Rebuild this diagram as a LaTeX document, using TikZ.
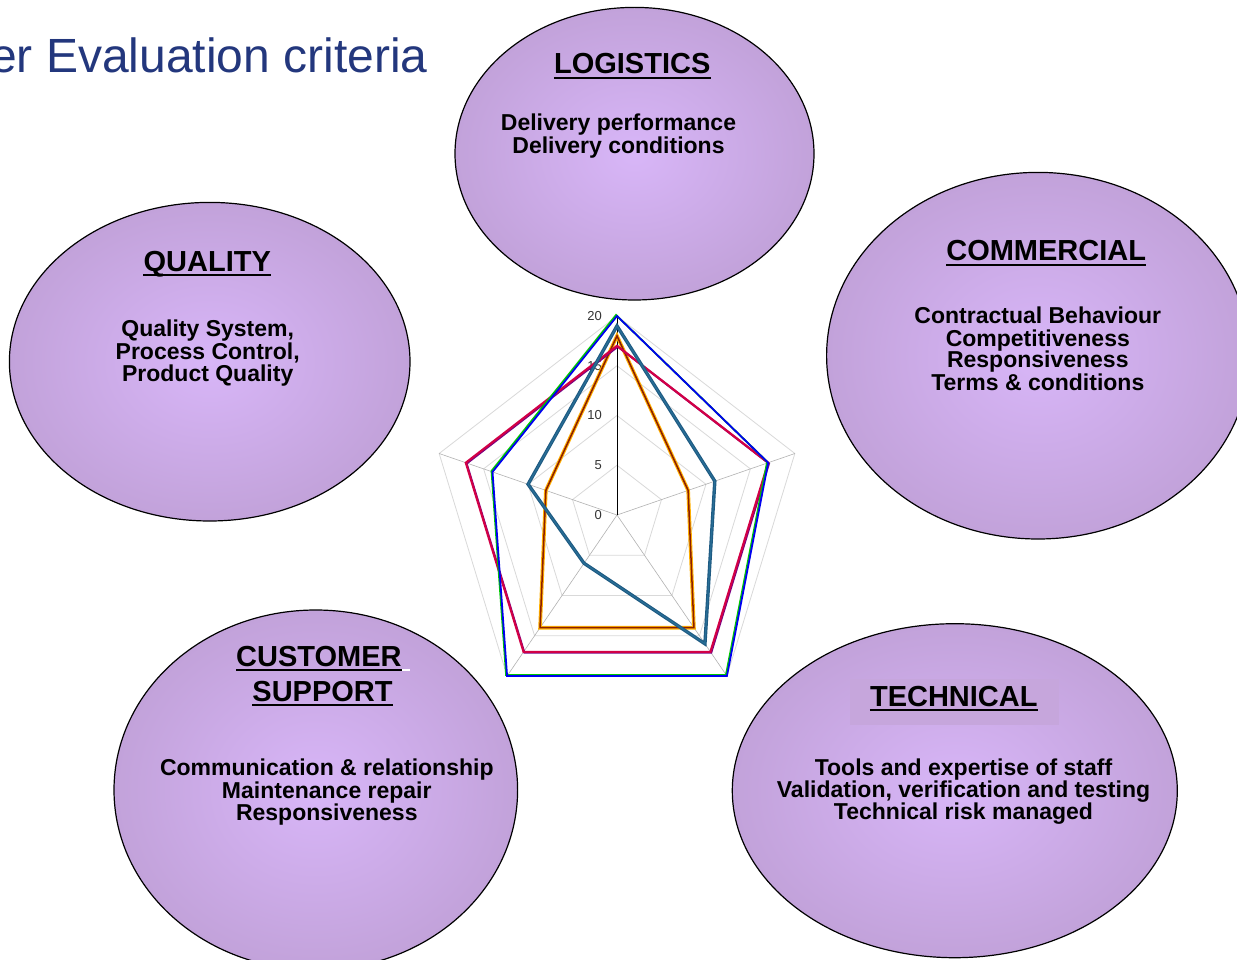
\documentclass[tikz,border=0pt]{standalone}
\usepackage{fontspec}
\setmainfont{Liberation Sans}
\usetikzlibrary{shapes.geometric}
\definecolor{lavin}{RGB}{216,182,248}
\definecolor{lavout}{RGB}{194,162,218}
\definecolor{titleblue}{RGB}{35,55,125}
\definecolor{headbg}{RGB}{198,166,220}
\definecolor{sgreen}{RGB}{0,200,0}
\definecolor{sblue}{RGB}{0,0,240}
\definecolor{scrim}{RGB}{210,0,70}
\definecolor{spurp}{RGB}{120,0,130}
\definecolor{steal}{RGB}{30,90,130}
\definecolor{stealin}{RGB}{40,110,150}
\definecolor{sorange}{RGB}{255,176,0}
\definecolor{sbrown}{RGB}{140,30,0}
\begin{document}
\begin{tikzpicture}[x=1pt,y=-1pt,
  blob/.style={ellipse, draw=black, line width=1.2pt, inner sep=0pt,
    shading=radial, inner color=lavin, outer color=lavout},
  head/.style={font=\bfseries\fontsize{29}{29}\selectfont, inner sep=0pt, anchor=base},
  body/.style={font=\bfseries\fontsize{23}{23}\selectfont, inner sep=0pt, anchor=base},
  uline/.style={line width=2pt},
  ringc/.style={draw=black!15, line width=0.8pt},
  spokec/.style={draw=black!30, line width=0.6pt},
  axlab/.style={font=\fontsize{13}{13}\selectfont, text=black!80, inner sep=0pt, anchor=east}]
\useasboundingbox[fill=white] (0,0) rectangle (1237,960);

% title
\node[font=\fontsize{48}{48}\selectfont, text=titleblue, inner sep=0pt, anchor=base west]
  (title) at (-10,72.7) {er Evaluation criteria};

% ellipses
\node[blob, minimum width=359pt, minimum height=292.6pt] (logistics) at (634.5,153.7) {};
\node[blob, minimum width=400.6pt, minimum height=318.6pt] (quality) at (209.7,361.7) {};
\node[blob, minimum width=422.8pt, minimum height=366.6pt] (commercial) at (1038,355.7) {};
\node[blob, minimum width=403.6pt, minimum height=360pt] (customer) at (315.8,790) {};
\node[blob, minimum width=445pt, minimum height=334pt] (technical) at (954.8,790.7) {};

% radar chart
\begin{scope}[shift={(617,515)}, x=9.35pt, y=9.95pt]
  \foreach \r in {5,10,15,20}
    \draw[ringc] (90:\r) -- (18:\r) -- (-54:\r) -- (-126:\r) -- (162:\r) -- cycle;
  \foreach \a in {18,-54,-126,162}
    \draw[spokec] (0,0) -- (\a:20);
  \draw[black, line width=1pt] (0,0) -- (0,20);
  \foreach \v in {0,5,10,15,20}
    \node[axlab] (lab\v) at ([xshift=-15pt]0,\v) {\v};
  % orange / brown series
  \draw[sorange, line width=3.6pt, line join=miter]
    (90:18) -- (18:8) -- (-54:14) -- (-126:14) -- (162:8) -- cycle;
  \draw[sbrown, line width=1.5pt, line join=miter]
    (90:18) -- (18:8) -- (-54:14) -- (-126:14) -- (162:8) -- cycle;
  % red / purple series
  \begin{scope}[xshift=0.8pt, yshift=-0.8pt]
  \draw[spurp, line width=2pt, line join=miter]
    (90:17) -- (18:17) -- (-54:17) -- (-126:17) -- (162:17) -- cycle;
  \end{scope}
  \draw[scrim, line width=2.2pt, line join=miter]
    (90:17) -- (18:17) -- (-54:17) -- (-126:17) -- (162:17) -- cycle;
  % green / blue series
  \begin{scope}[xshift=-1pt, yshift=1pt]
  \draw[sgreen, line width=1.8pt, line join=miter]
    (90:20) -- (18:17) -- (-54:20) -- (-126:20) -- (162:14) -- cycle;
  \end{scope}
  \draw[sblue, line width=1.8pt, line join=miter]
    (90:20) -- (18:17) -- (-54:20) -- (-126:20) -- (162:14) -- cycle;
  % teal series
  \draw[steal, line width=3.4pt, line join=miter]
    (90:19) -- (18:11) -- (-54:16) -- (-126:6) -- (162:10) -- cycle;
  \draw[stealin, line width=1.2pt, line join=miter]
    (90:19) -- (18:11) -- (-54:16) -- (-126:6) -- (162:10) -- cycle;
\end{scope}

% LOGISTICS
\node[head] (hlog) at (632.2,74) {LOGISTICS};
\draw[uline] ([yshift=-3.8pt]hlog.base west) -- ([yshift=-3.8pt]hlog.base east);
\node[body] (log1) at (618.5,130.7) {Delivery performance};
\node[body] (log2) at (618.5,153.3) {Delivery conditions};

% QUALITY
\node[head] (hqual) at (207.3,271) {QUALITY};
\draw[uline] ([yshift=-3.8pt]hqual.base west) -- ([yshift=-3.8pt]hqual.base east);
\node[body] (q1) at (207.7,336.7) {Quality System,};
\node[body] (q2) at (207.7,359.3) {Process Control,};
\node[body] (q3) at (207.7,381) {Product Quality};

% COMMERCIAL
\node[head] (hcom) at (1046.2,261) {COMMERCIAL};
\draw[uline] ([yshift=-3.5pt]hcom.base west) -- ([yshift=-3.5pt]hcom.base east);
\node[body] (c1) at (1037.8,323.3) {Contractual Behaviour};
\node[body] (c2) at (1037.8,346) {Competitiveness};
\node[body] (c3) at (1037.8,367.7) {Responsiveness};
\node[body] (c4) at (1037.8,390) {Terms \& conditions};

% CUSTOMER SUPPORT
\node[head, anchor=base west] (hcus) at (236,666.7) {CUSTOMER};
\draw[uline] ([yshift=-3pt]hcus.base west) -- ([yshift=-3pt]hcus.base east);
\draw[uline, white] ([yshift=-3pt]hcus.base east) -- ([yshift=-3pt,xshift=8pt]hcus.base east);
\node[head] (hsup) at (322.5,701) {SUPPORT};
\draw[uline] ([yshift=-3.8pt]hsup.base west) -- ([yshift=-3.8pt]hsup.base east);
\node[body] (cs1) at (326.8,775.7) {Communication \& relationship};
\node[body] (cs2) at (326.8,798.3) {Maintenance repair};
\node[body] (cs3) at (326.8,820) {Responsiveness};

% TECHNICAL
\fill[headbg] (850,679.3) rectangle (1059,725);
\node[head] (htec) at (953.8,706.7) {TECHNICAL};
\draw[uline] ([yshift=-3.5pt]htec.base west) -- ([yshift=-3.5pt]htec.base east);
\node[body] (t1) at (963.5,775.7) {Tools and expertise of staff};
\node[body] (t2) at (963.5,797.3) {Validation, verification and testing};
\node[body] (t3) at (963.5,819) {Technical risk managed};
\end{tikzpicture}
\end{document}
